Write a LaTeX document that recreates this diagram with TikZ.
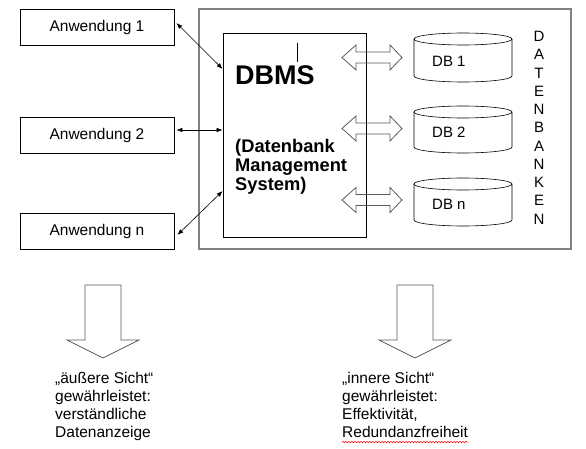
\documentclass[tikz,border=0pt]{standalone}
\usepackage{fontspec}
\setmainfont{Liberation Sans}
\usetikzlibrary{arrows.meta,decorations.pathmorphing}

\begin{document}
\begin{tikzpicture}[x=1pt,y=-1pt]
\tikzstyle{every node}+=[inner sep=0pt]
\tikzstyle{anw}=[draw=black, line width=0.8pt, minimum width=154pt, minimum height=36pt, font=\fontsize{15.5}{18}\selectfont]
\tikzstyle{dbtext}=[anchor=base west, font=\fontsize{15}{18}\selectfont]
\tikzstyle{link}=[black, line width=0.6pt, {Latex[length=6pt,width=4.5pt]}-{Latex[length=6pt,width=4.5pt]}]
\tikzstyle{blockarrow}=[black!65, line width=0.8pt, line join=miter]
\tikzstyle{cyl}=[black, line width=0.6pt]
\tikzstyle{sicht}=[anchor=north west, align=left, font=\fontsize{15.5}{18.2}\selectfont]
\useasboundingbox (0,0) rectangle (586,449);
\draw [gray, line width=1.5pt] (199,9) rectangle (571,249);
\node [anw] (anw1) at (97,27) {Anwendung 1};
\node [anw] (anw2) at (97,135) {Anwendung 2};
\node [anw] (anwn) at (97,231) {Anwendung n};
\node [draw=black, line width=0.8pt, minimum width=143pt, minimum height=204pt] (dbms) at (294.5,135) {};
\draw [black, line width=0.6pt] (297,43) -- (297,62);
\node [anchor=base west, font=\bfseries\fontsize{27}{30}\selectfont] (dbmstitle) at (235,85) {DBMS};
\node [anchor=north west, align=left, font=\bfseries\fontsize{18.3}{19}\selectfont] (dbmsname) at (235,139.5) {(Datenbank\\Management\\System)};
\draw [link] ([shift={(2pt,4pt)}]anw1.east) -- ([yshift=66pt]dbms.west);
\draw [link] ([shift={(2pt,5pt)}]anw2.east) -- ([yshift=5pt]dbms.west);
\draw [link] ([shift={(3pt,-4pt)}]anwn.east) -- ([yshift=-56pt]dbms.west);
\draw [blockarrow] (342,57.5) -- (356,45) -- (356,52) -- (390,52) -- (390,45) -- (402,57.5) -- (390,70) -- (390,63) -- (356,63) -- (356,70) -- cycle;
\draw [blockarrow] (342,128.5) -- (356,116) -- (356,123) -- (390,123) -- (390,116) -- (402,128.5) -- (390,141) -- (390,134) -- (356,134) -- (356,141) -- cycle;
\draw [blockarrow] (342,200) -- (356,187.5) -- (356,194.5) -- (390,194.5) -- (390,187.5) -- (402,200) -- (390,212.5) -- (390,205.5) -- (356,205.5) -- (356,212.5) -- cycle;
\draw [cyl] (463,39) ellipse [x radius=49, y radius=6];
\draw [cyl] (414,39) -- (414,76) arc [start angle=180, end angle=0, x radius=49, y radius=6] -- (512,39);
\node [dbtext] (db1) at (432,67) {DB 1};
\draw [cyl] (463,112) ellipse [x radius=49, y radius=6];
\draw [cyl] (414,112) -- (414,147) arc [start angle=180, end angle=0, x radius=49, y radius=6] -- (512,112);
\node [dbtext] (db2) at (432,138) {DB 2};
\draw [cyl] (463,184) ellipse [x radius=49, y radius=6];
\draw [cyl] (414,184) -- (414,220) arc [start angle=180, end angle=0, x radius=49, y radius=6] -- (512,184);
\node [dbtext] (dbn) at (432,209) {DB n};
\node [anchor=north, align=center, font=\fontsize{15}{18.25}\selectfont] (banken) at (539,31) {D\\A\\T\\E\\N\\B\\A\\N\\K\\E\\N};
\draw [blockarrow] (85,285) -- (121,285) -- (121,340) -- (139,340) -- (103,358) -- (67,340) -- (85,340) -- cycle;
\draw [blockarrow] (397,285) -- (433,285) -- (433,340) -- (451,340) -- (415,358) -- (379,340) -- (397,340) -- cycle;
\node [sicht] (aussen) at (55,371.7) {„äußere Sicht“\\gewährleistet:\\verständliche\\Datenanzeige};
\node [sicht] (innen) at (342,371.7) {„innere Sicht“\\gewährleistet:\\Effektivität,\\Redundanzfreiheit};
\draw [red, line width=0.5pt, decorate, decoration={snake, amplitude=0.8pt, segment length=3pt}] ([yshift=-4pt]innen.south west) -- ([yshift=-4pt]innen.south east);
\end{tikzpicture}
\end{document}
